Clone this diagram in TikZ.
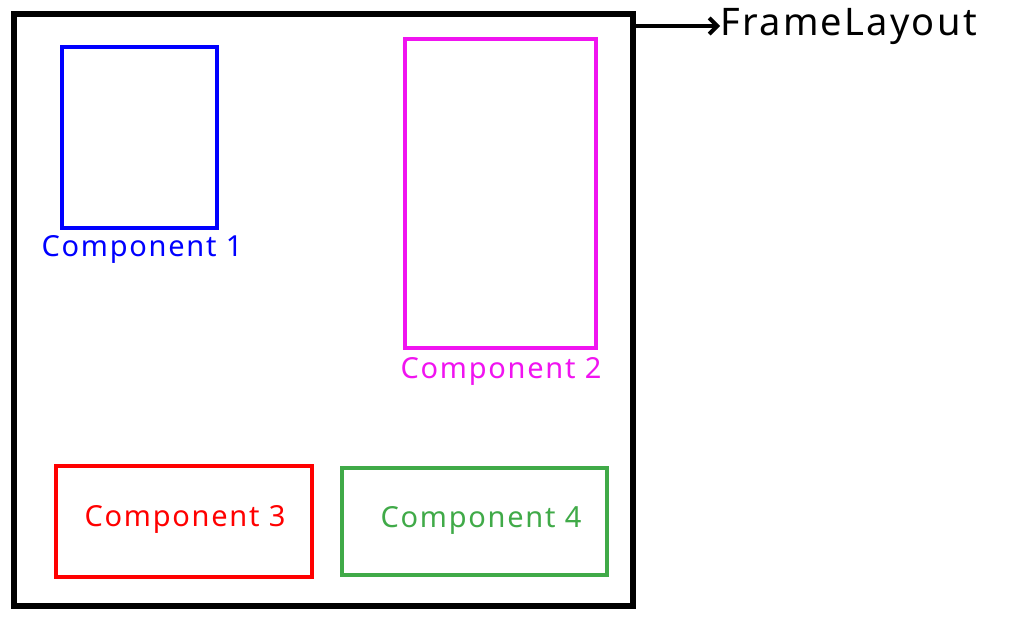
\documentclass[tikz,border=0pt]{standalone}
\usepackage{fontspec}
\setmainfont[LetterSpace=6]{Noto Sans}
\usetikzlibrary{arrows.meta}
\definecolor{cgreen}{RGB}{64,170,72}
\definecolor{cmag}{RGB}{240,20,240}
\tikzset{x=1pt,y=-1pt,
 comp/.style={draw,line width=4pt},
 lbl/.style={font=\fontsize{29}{30}\selectfont,inner sep=0pt}}
\begin{document}
\begin{tikzpicture}
\useasboundingbox (0,0) rectangle (1024,620);
\draw[line width=6pt] (14,14) rectangle (633,606);
\coordinate (fr) at (633,26);
\node[font=\fontsize{38}{40}\selectfont,anchor=west,inner sep=0pt] (fl) at (720,26) {FrameLayout};
\draw[line width=4pt,-{Straight Barb[length=8pt,width=16pt]}] (fr) -- (fl.west);
\draw[comp,blue] (62,47) rectangle (217,228);
\node[lbl,text=blue] (l1) at (142,249) {Component 1};
\draw[comp,cmag] (405,39) rectangle (596,348);
\node[lbl,text=cmag] (l2) at (501,371) {Component 2};
\draw[comp,red] (56,466) rectangle (312,577);
\node[lbl,text=red] (l3) at (185,519) {Component 3};
\draw[comp,cgreen] (342,468) rectangle (607,575);
\node[lbl,text=cgreen] (l4) at (481,520) {Component 4};
\end{tikzpicture}
\end{document}
